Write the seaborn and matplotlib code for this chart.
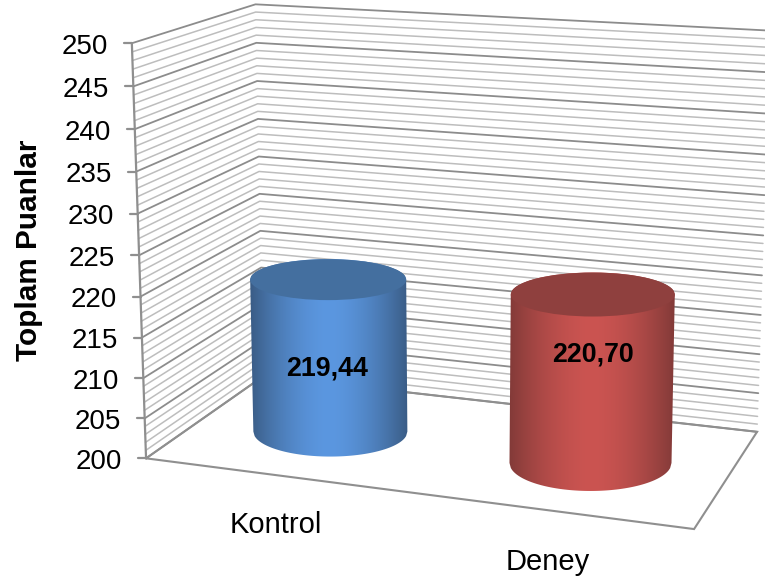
import numpy as np
import pandas as pd
import matplotlib
matplotlib.use("Agg")
import matplotlib.pyplot as plt
from matplotlib.colors import to_rgb
from matplotlib.patches import Ellipse, Polygon
import seaborn as sns

# Chart data
categories = ["Kontrol", "Deney"]
values = [219.44, 220.70]
value_labels = ["219,44", "220,70"]
y_label = "Toplam Puanlar"
y_min, y_max = 200, 250
major_ticks = list(range(200, 251, 5))
minor_ticks = [v for v in range(200, 251) if v % 5]

# Cylinder styling
bar_slots = [0.255, 0.755]
bar_depth = 0.48
top_radii = [(78, 20.5), (82, 22)]
base_radii = [(77, 25), (81, 28)]
edge_colors = ["#3a5c85", "#823a38"]
mid_colors = ["#5b97e0", "#cb5451"]
lid_colors = ["#446f9f", "#8f403e"]
label_anchor = [(327, 368), (593, 355)]
category_anchor = [(275.5, 533), (548, 570)]

# Camera calibration: box coordinates (u, v, w) and where they land on the canvas
box_points = np.array([
    (0, 1, 0), (0, .5, 0), (0, 0, 0), (0, 1, 1), (0, .5, 1), (0, 0, 1),
    (1, 1, 1), (1, .5, 1), (1, 0, 1), (1, 0, 0),
], dtype=float)
canvas_points = np.array([
    (130, 43), (139, 256), (148, 457), (257, 5), (259.5, 192), (262, 378),
    (770, 32), (763, 233), (757, 432), (694, 530),
], dtype=float)


def fit_camera(world, screen):
    rows = []
    for (u, v, w), (x, y) in zip(world, screen):
        rows.append([u, v, w, 1, 0, 0, 0, 0, -x * u, -x * v, -x * w, -x])
        rows.append([0, 0, 0, 0, u, v, w, 1, -y * u, -y * v, -y * w, -y])
    return np.linalg.svd(np.array(rows))[2][-1].reshape(3, 4)


camera = fit_camera(box_points, canvas_points)


def project(u, v, w):
    h = camera @ np.array([u, v, w, 1.0])
    return h[0] / h[2], h[1] / h[2]


def norm(value):
    return (value - y_min) / (y_max - y_min)


def wall_rows(ticks):
    # Each gridline runs along the left wall, then across the back wall
    rows = []
    for t in ticks:
        for order, (u, w) in enumerate([(0, 0), (0, 1), (1, 1)]):
            x, y = project(u, norm(t), w)
            rows.append({"tick": t, "order": order, "x": x, "y": y})
    return pd.DataFrame(rows)


sns.set_theme(style="white")
plt.rcParams["font.family"] = ["Liberation Sans", "DejaVu Sans"]

fig = plt.figure(figsize=(7.65, 5.81), dpi=100)
ax = fig.add_axes([0, 0, 1, 1])

sns.lineplot(data=wall_rows(minor_ticks), x="x", y="y", units="tick", estimator=None,
             sort=False, color="#bdbdbd", linewidth=1.1, legend=False, ax=ax, zorder=1)
sns.lineplot(data=wall_rows(major_ticks), x="x", y="y", units="tick", estimator=None,
             sort=False, color="#8c8c8c", linewidth=1.3, legend=False, ax=ax, zorder=2)

# Floor outline and the value axis edge
axis_color = "#8f8f8f"
floor = [project(u, 0, w) for u, w in [(0, 0), (1, 0), (1, 1), (0, 1), (0, 0)]]
ax.plot(*zip(*floor), color=axis_color, lw=1.5, zorder=2, solid_joinstyle="miter")
ax.plot(*zip(project(0, 0, 0), project(0, 1, 0)), color=axis_color, lw=1.6, zorder=2)

# Tick marks and tick labels
for t in major_ticks:
    x, y = project(0, norm(t), 0)
    ax.plot([x - 8, x], [y, y], color=axis_color, lw=1.6, zorder=2)
    ax.text(x - 24, y + 0.8, str(t), ha="right", va="center_baseline",
            fontsize=20, color="black")

ax.text(37, 250, y_label, rotation=90, ha="center", va="baseline",
        rotation_mode="anchor", fontsize=21.4, fontweight="bold", color="black")

# Cylinders: a horizontal shading ramp clipped to each silhouette, then the lid
arc = np.linspace(-1, 1, 121)
for i, value in enumerate(values):
    xb, yb = project(bar_slots[i], 0, bar_depth)
    xt, yt = project(bar_slots[i], norm(value), bar_depth)
    rxb, ryb = base_radii[i]
    rxt, ryt = top_radii[i]

    outline = [(xt + rxt * s, yt - ryt * np.sqrt(1 - s * s)) for s in arc]
    outline += [(xb + rxb * s, yb + ryb * np.sqrt(1 - s * s)) for s in arc[::-1]]
    body = Polygon(outline, closed=True, transform=ax.transData,
                   facecolor="none", edgecolor="none")
    ax.add_patch(body)

    x0 = min(xt - rxt, xb - rxb)
    x1 = max(xt + rxt, xb + rxb)
    ramp = np.abs(np.linspace(-1, 1, 256)) ** 1.7
    rgb = (np.outer(1 - ramp, to_rgb(mid_colors[i]))
           + np.outer(ramp, to_rgb(edge_colors[i])))
    image = ax.imshow(rgb[np.newaxis, :, :], extent=(x0, x1, yb + ryb + 2, yt - ryt - 2),
                      aspect="auto", interpolation="bilinear", zorder=3)
    image.set_clip_path(body)

    ax.add_patch(Ellipse((xt, yt), 2 * rxt, 2 * ryt, facecolor=lid_colors[i],
                         edgecolor="none", zorder=4))
    ax.text(*label_anchor[i], value_labels[i], ha="center", va="center",
            fontsize=19.3, fontweight="bold", color="black", zorder=5)

# Category labels sit below the slanted front edge
for name, (x, y) in zip(categories, category_anchor):
    ax.text(x, y, name, ha="center", va="baseline", fontsize=21, color="black")

ax.set_xlim(0, 765)
ax.set_ylim(581, 0)
ax.set_axis_off()

fig.savefig("out.png", dpi=100)
